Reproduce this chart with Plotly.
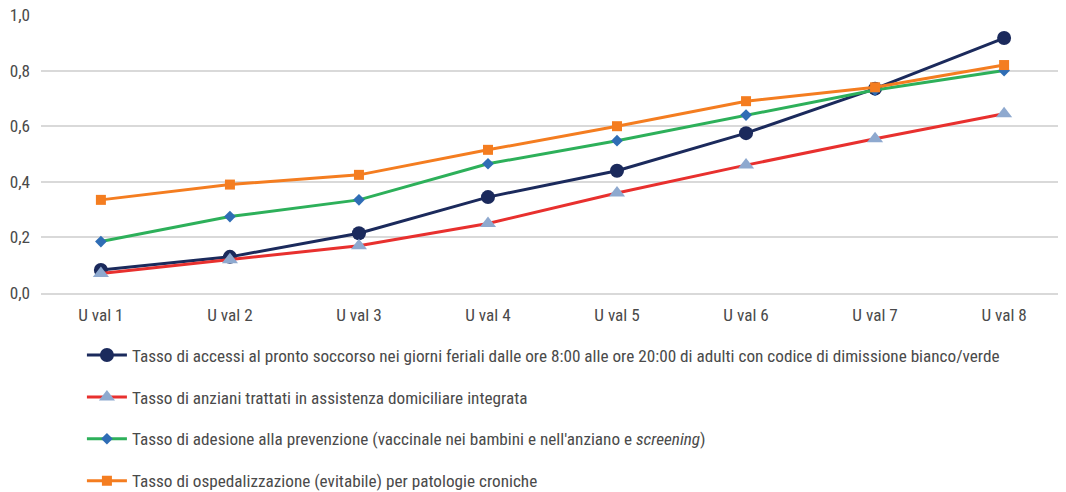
import plotly.graph_objects as go

categories = ["U val 1", "U val 2", "U val 3", "U val 4", "U val 5", "U val 6", "U val 7", "U val 8"]
accessi_ps = [0.083, 0.13, 0.215, 0.345, 0.44, 0.575, 0.735, 0.917]
anziani_adi = [0.07, 0.12, 0.17, 0.25, 0.36, 0.46, 0.555, 0.645]
prevenzione = [0.185, 0.275, 0.335, 0.465, 0.548, 0.64, 0.73, 0.80]
ospedalizzazione = [0.335, 0.39, 0.425, 0.515, 0.60, 0.69, 0.74, 0.82]

names = [
    "Tasso di accessi al pronto soccorso nei giorni feriali dalle ore 8:00 alle ore 20:00 di adulti con codice di dimissione bianco/verde",
    "Tasso di anziani trattati in assistenza domiciliare integrata",
    "Tasso di adesione alla prevenzione (vaccinale nei bambini e nell'anziano e <i>screening</i>)",
    "Tasso di ospedalizzazione (evitabile) per patologie croniche",
]

font_family = "Liberation Sans Narrow, Roboto Condensed, Arial Narrow, Roboto, sans-serif"
text_color = "#4A4A4A"
fs = 17.2

fig = go.Figure()
fig.add_trace(go.Scatter(x=categories, y=accessi_ps, name=names[0], mode="lines+markers",
                         line=dict(color="#1B2A5C", width=3),
                         marker=dict(symbol="circle", size=14, color="#1B2A5C"), legendgroup="a"))
fig.add_trace(go.Scatter(x=categories, y=anziani_adi, name=names[1], mode="lines+markers",
                         line=dict(color="#E8302E", width=3),
                         marker=dict(symbol="triangle-up", size=14, color="#8EA9CF"), legendgroup="b"))
fig.add_trace(go.Scatter(x=categories, y=prevenzione, name=names[2], mode="lines+markers",
                         line=dict(color="#2DB05A", width=3),
                         marker=dict(symbol="diamond", size=9, color="#2F6DB5"), legendgroup="c"))
fig.add_trace(go.Scatter(x=categories, y=ospedalizzazione, name=names[3], mode="lines+markers",
                         line=dict(color="#F47D20", width=3),
                         marker=dict(symbol="square", size=10, color="#F47D20"), legendgroup="d"))

fig.update_layout(
    width=1058, height=484,
    margin=dict(l=33, r=2, t=7, b=199, autoexpand=False),
    plot_bgcolor="white", paper_bgcolor="white",
    separators=",.",
    font=dict(family=font_family, size=fs, color=text_color),
    showlegend=True,
    legend=dict(orientation="v", x=0.040, y=-0.1596, xanchor="left", yanchor="top",
                tracegroupgap=16.5, font=dict(size=fs, color=text_color),
                itemwidth=40, bgcolor="rgba(0,0,0,0)"),
    xaxis=dict(type="category", showgrid=False, showline=True, linecolor="#D9D9D9", linewidth=1.5,
               ticks="", tickfont=dict(size=fs, color=text_color), zeroline=False,
               ticklabelstandoff=6),
    yaxis=dict(range=[0, 1.0], dtick=0.2, tickformat=".1f", showgrid=True, gridcolor="#D9D9D9",
               gridwidth=1.5, zeroline=False, showline=False, ticks="",
               tickfont=dict(size=fs, color=text_color), ticklabelstandoff=10,
               ticklabeloverflow="allow"),
)

fig.write_html("out.html")
